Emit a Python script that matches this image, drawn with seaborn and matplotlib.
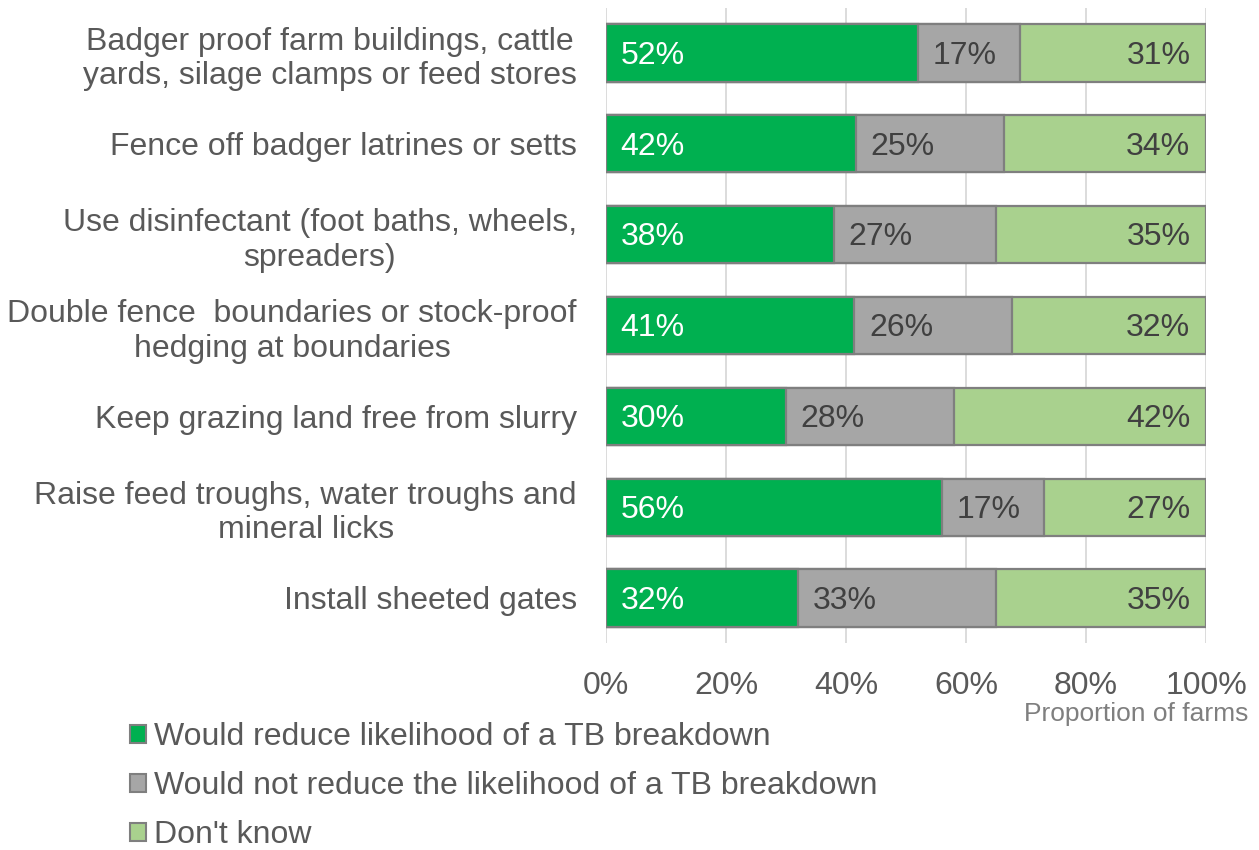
import matplotlib
matplotlib.use("Agg")
import matplotlib.pyplot as plt
from matplotlib.patches import Patch
from matplotlib.ticker import PercentFormatter
import seaborn as sns
import pandas as pd
import numpy as np

categories = [
    "Badger proof farm buildings, cattle\nyards, silage clamps or feed stores",
    "Fence off badger latrines or setts",
    "Use disinfectant (foot baths, wheels,\nspreaders)",
    "Double fence  boundaries or stock-proof\nhedging at boundaries",
    "Keep grazing land free from slurry",
    "Raise feed troughs, water troughs and\nmineral licks",
    "Install sheeted gates",
]
would_reduce = [52, 42, 38, 41, 30, 56, 32]
would_not_reduce = [17, 25, 27, 26, 28, 17, 33]
dont_know = [31, 34, 35, 32, 42, 27, 35]
series_names = [
    "Would reduce likelihood of a TB breakdown",
    "Would not reduce the likelihood of a TB breakdown",
    "Don't know",
]
tick_values = [0, 20, 40, 60, 80, 100]

GREEN = "#00B050"
GREY = "#A6A6A6"
LIGHT = "#A9D18E"
EDGE = "#7F7F7F"
TEXT = "#595959"

sns.set_theme(style="white")
plt.rcParams["font.family"] = ["Liberation Sans", "DejaVu Sans"]

df = pd.DataFrame({
    "measure": categories,
    "reduce": would_reduce,
    "not_reduce": would_not_reduce,
    "dont_know": dont_know,
})
# 100% stacked: scale each row so its segments fill the whole bar
total = df[["reduce", "not_reduce", "dont_know"]].sum(axis=1)
df["cum1"] = df["reduce"] / total * 100
df["cum2"] = (df["reduce"] + df["not_reduce"]) / total * 100
df["cum3"] = 100.0 * total / total

fig = plt.figure(figsize=(12.59, 8.5), dpi=100)
ax = fig.add_axes([606 / 1259, 1 - 643.4 / 850, 600 / 1259, (643.4 - 7.6) / 850])

bar_kw = dict(orient="y", width=0.63, edgecolor=EDGE, linewidth=1.6, ax=ax)
sns.barplot(data=df, y="measure", x="cum3", color=LIGHT, saturation=1, **bar_kw)
sns.barplot(data=df, y="measure", x="cum2", color=GREY, saturation=1, **bar_kw)
sns.barplot(data=df, y="measure", x="cum1", color=GREEN, saturation=1, **bar_kw)

ax.set_xlim(0, 100)
ax.set_xticks(tick_values)
ax.xaxis.set_major_formatter(PercentFormatter(decimals=0))
ax.grid(axis="x", color="#D9D9D9", linewidth=1.3, zorder=0)
ax.set_axisbelow(True)
for s in ax.spines.values():
    s.set_visible(False)
ax.set_xlabel("")
ax.set_ylabel("")
ax.tick_params(axis="x", labelsize=23, labelcolor=TEXT, length=0, pad=20)
ax.tick_params(axis="y", labelsize=23, labelcolor=TEXT, length=0, pad=21)
for lbl in ax.get_yticklabels():
    lbl.set_horizontalalignment("right")
    lbl.set_multialignment("center")

# segment value labels
for i, row in df.iterrows():
    y = i + 0.03
    ax.text(2.4, y, f"{row['reduce']}%", color="white", fontsize=23,
            va="center", ha="left")
    ax.text(row["cum1"] + 2.4, y, f"{row['not_reduce']}%", color="#404040",
            fontsize=23, va="center", ha="left")
    ax.text(97.4, y, f"{row['dont_know']}%", color="#404040", fontsize=23,
            va="center", ha="right")

fig.text(1248 / 1259, 1 - 714 / 850, "Proportion of farms", color="#7F7F7F",
         fontsize=19, ha="right", va="center")

handles = [Patch(facecolor=c, edgecolor=EDGE, linewidth=1.5)
           for c in (GREEN, GREY, LIGHT)]
fig.legend(handles, series_names, loc="upper left",
           bbox_to_anchor=(130 / 1259, 1 - 722 / 850), frameon=False,
           fontsize=23, labelcolor=TEXT, handlelength=0.5, handleheight=0.5,
           handletextpad=0.25, labelspacing=0.6, borderpad=0, borderaxespad=0)

fig.savefig("out.png", dpi=100)
